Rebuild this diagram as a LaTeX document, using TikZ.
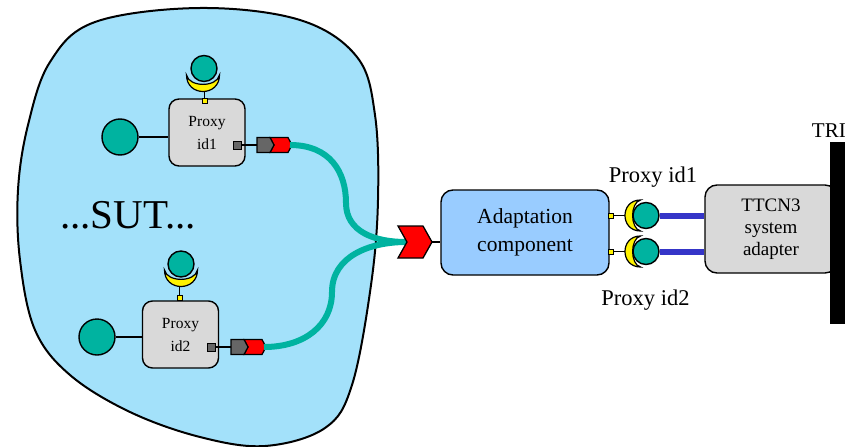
\documentclass[tikz,border=0pt]{standalone}
\usepackage{fontspec}
\setmainfont{Liberation Serif}
\begin{document}
\definecolor{sutblue}{HTML}{A3E1FA}
\definecolor{portteal}{HTML}{00B3A0}
\definecolor{boxgray}{HTML}{D9D9D9}
\definecolor{adaptblue}{HTML}{99CCFF}
\definecolor{plug}{HTML}{666666}
\definecolor{wireblue}{HTML}{3535C8}
\begin{tikzpicture}[x=1pt,y=-1pt,
  outl/.style={draw=black, line width=1.4pt},
  proxybox/.style={outl, fill=boxgray, rounded corners=10pt, minimum width=76pt, minimum height=67pt,
    inner sep=0pt, align=center, font=\rmfamily\fontsize{15.5}{23}\selectfont},
  ball/.style={outl, circle, fill=portteal, inner sep=0pt},
  tinysq/.style={draw=black, line width=1pt, fill=plug, minimum size=8pt, inner sep=0pt},
  ysq/.style={draw=black, line width=0.8pt, fill=yellow, minimum size=5pt, inner sep=0pt},
  link/.style={draw=black, line width=1.3pt},
  cable/.style={draw=portteal, line width=6pt},
  wire/.style={draw=wireblue, line width=6pt},
  cupup/.pic={\draw[fill=yellow, line width=1.2pt]
    (-16.5,0) .. controls (-16.5,22) and (16.5,22) .. (16.5,0)
    .. controls (14,12.5) and (-14,12.5) .. cycle;},
  cupleft/.pic={\draw[fill=yellow, line width=1.2pt]
    (0,-15.5) .. controls (-20.7,-15.5) and (-20.7,15.5) .. (0,15.5)
    .. controls (-10.5,13) and (-10.5,-13) .. cycle;},
  plugpair/.pic={
    \draw[outl, line width=1.2pt, fill=red] (13,-7.5) -- (31,-7.5) -- (35,0) -- (31,7.5) -- (13,7.5) -- (17,0) -- cycle;
    \draw[outl, line width=1.2pt, fill=plug] (0,-7.5) -- (13,-7.5) -- (17,0) -- (13,7.5) -- (0,7.5) -- cycle;}
]
\useasboundingbox (0,0) rectangle (854,447);

% system under test
\draw[fill=sutblue, line width=2pt] plot[smooth cycle, tension=0.6] coordinates {
  (200,8) (300,20) (357,57) (375,115) (378,200) (371,285) (352,385) (325,428)
  (265,446) (200,437) (130,412) (70,375) (35,330) (20,260) (18,190) (28,125) (50,62) (95,22)};
\node[font=\rmfamily\fontsize{41}{41}\selectfont, anchor=base] (sut) at (128,228) {...SUT...};

% proxy 1
\node[proxybox] (px1) at (207,132.5) {Proxy\\id1};
\node[ball, minimum size=36pt] (b1) at (120,137) {};
\draw[link] (b1.east) -- (b1.east -| px1.west);
\pic at (203,75) {cupup};
\node[ball, minimum size=26pt] (t1) at (204,68.5) {};
\node[ysq] (y1) at (204.5,101) {};
\draw[link, line width=1pt] (y1.north) -- (204.5,91.5);
\node[tinysq] (s1) at (237.5,145) {};
\pic at (257,145) {plugpair};
\coordinate (e1) at (257,145);
\coordinate (f1) at (290,145);
\draw[link] (s1.east) -- (e1);

% proxy 2
\node[proxybox] (px2) at (180.5,334.5) {Proxy\\id2};
\node[ball, minimum size=36pt] (b2) at (97,337) {};
\draw[link] (b2.east) -- (b2.east -| px2.west);
\pic at (181,270) {cupup};
\node[ball, minimum size=26pt] (t2) at (181,264) {};
\node[ysq] (y2) at (179.5,298) {};
\draw[link, line width=1pt] (y2.north) -- (179.5,286.5);
\node[tinysq] (s2) at (211.5,347) {};
\pic at (231,347) {plugpair};
\coordinate (e2) at (231,347);
\coordinate (f2) at (264,347);
\draw[link] (s2.east) -- (e2);

% cables joining at the adaptation plug
\coordinate (join) at (406,242);
\draw[cable] (f1) .. controls (330,145) and (346,172) .. (346,203)
  .. controls (346,232) and (375,242) .. (join);
\draw[cable] (f2) .. controls (305,347) and (332,325) .. (332,292)
  .. controls (332,256) and (370,242) .. (join);
\draw[outl, line width=1.3pt, fill=red] (398,226) -- (423,226) -- (432,242) -- (423,258) -- (398,258) -- (407,242) -- cycle;
\coordinate (tip) at (432,242);

% adaptation component
\node[outl, fill=adaptblue, rounded corners=12pt, minimum width=168pt, minimum height=85pt,
  align=center, font=\rmfamily\fontsize{21.5}{28}\selectfont] (adapt) at (525,232.5) {Adaptation\\component};
\draw[link] (tip) -- (tip -| adapt.west);

% TTCN3 system adapter
\node[outl, fill=boxgray, rounded corners=12pt, minimum width=132pt, minimum height=88pt,
  align=center, font=\rmfamily\fontsize{19}{22}\selectfont] (ttcn) at (771,229) {TTCN3\\system\\adapter};

% proxy ports of the adaptation component
\foreach \yy/\nm in {215.5/1, 251.5/2} {
  \node[ysq] (q\nm) at (611,\yy) {};
  \draw[link, line width=1pt] (q\nm.east) -- (625,\yy);
  \pic at (640.5,\yy) {cupleft};
  \node[ball, minimum size=26pt] (r\nm) at (646,\yy) {};
  \draw[wire] (r\nm.east) -- (r\nm.east -| ttcn.west);
}
\node[font=\rmfamily\fontsize{22.5}{22.5}\selectfont, anchor=base] (lab1) at (653,182) {Proxy id1};
\node[font=\rmfamily\fontsize{22.5}{22.5}\selectfont, anchor=base] (lab2) at (645.5,305) {Proxy id2};

% test runtime interface
\fill[black] (830,142) rectangle (845,324);
\node[font=\rmfamily\fontsize{21}{21}\selectfont, anchor=base east, inner sep=0pt] (tri) at (846,137) {TRI};
\end{tikzpicture}
\end{document}
